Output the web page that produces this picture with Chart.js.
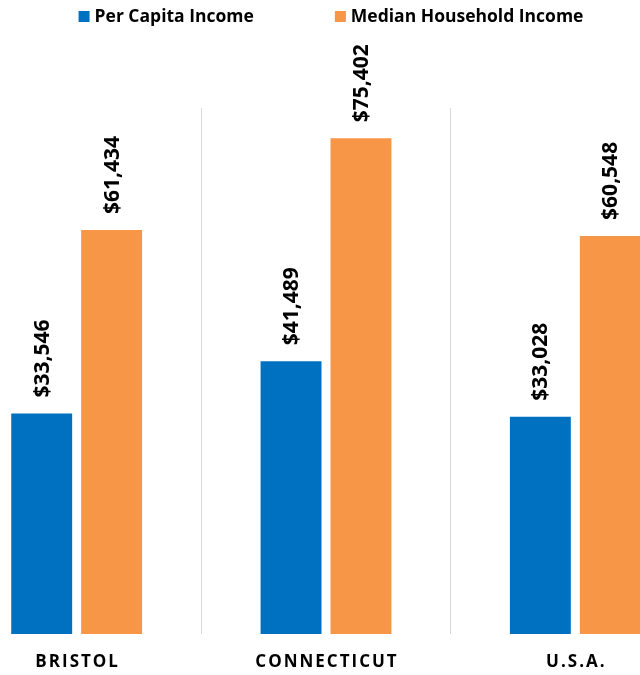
<!DOCTYPE html>
<html>
<head>
<meta charset="utf-8">
<script src="https://cdn.jsdelivr.net/npm/chart.js@4.4.1/dist/chart.umd.min.js"></script>
<style>
  html, body { margin: 0; padding: 0; background: #fff; overflow: hidden; }
  #wrap { position: absolute; left: -48px; top: 0; width: 748px; height: 675px; }
</style>
</head>
<body>
<div id="wrap"><canvas id="chart"></canvas></div>
<script>
const categories = ["BRISTOL", "CONNECTICUT", "U.S.A."];
const perCapita = [33546, 41489, 33028];
const medianHousehold = [61434, 75402, 60548];
const seriesNames = ["Per Capita Income", "Median Household Income"];
const seriesColors = ["#0070C0", "#F79646"];

const FONT = "'Open Sans', 'Liberation Sans', sans-serif";

// legend, value labels and category labels drawn by hand
const labelsPlugin = {
  id: "labels",
  afterDraw(chart) {
    const ctx = chart.ctx;
    ctx.save();

    // value labels, rotated, above each bar
    ctx.font = "bold 21px " + FONT;
    ctx.fillStyle = "#000";
    ctx.textAlign = "left";
    ctx.textBaseline = "middle";
    chart.data.datasets.forEach((ds, di) => {
      chart.getDatasetMeta(di).data.forEach((bar, i) => {
        ctx.save();
        ctx.translate(bar.x + 1, bar.y - 16);
        ctx.rotate(-Math.PI / 2);
        ctx.fillText("$" + ds.data[i].toLocaleString("en-US"), 0, 0);
        ctx.restore();
      });
    });

    // category labels
    const xScale = chart.scales.x;
    ctx.font = "bold 17px " + FONT;
    ctx.letterSpacing = "2px";
    ctx.textAlign = "center";
    categories.forEach((c, i) => {
      ctx.fillText(c, xScale.getPixelForValue(i) + 1, 662);
    });
    ctx.letterSpacing = "0px";

    // legend
    ctx.font = "bold 17.5px " + FONT;
    ctx.textAlign = "left";
    const box = 11, gapText = 5, gapItem = 81;
    const widths = chart.data.datasets.map(ds => box + gapText + ctx.measureText(ds.label).width);
    const total = widths[0] + gapItem + widths[1];
    let x = 48 + 331 - total / 2;
    chart.data.datasets.forEach((ds, di) => {
      ctx.fillStyle = ds.backgroundColor;
      ctx.fillRect(x, 11, box, box);
      ctx.fillStyle = "#000";
      ctx.fillText(ds.label, x + box + gapText, 17);
      x += widths[di] + gapItem;
    });

    ctx.restore();
  }
};

new Chart(document.getElementById("chart"), {
  type: "bar",
  data: {
    labels: categories,
    datasets: [
      { label: seriesNames[0], data: perCapita, backgroundColor: seriesColors[0] },
      { label: seriesNames[1], data: medianHousehold, backgroundColor: seriesColors[1] }
    ]
  },
  options: {
    responsive: true,
    maintainAspectRatio: false,
    animation: false,
    categoryPercentage: 0.561,
    barPercentage: 0.871,
    layout: { padding: { top: 108, bottom: 41, left: 0, right: 0 } },
    plugins: {
      legend: { display: false },
      tooltip: { enabled: false }
    },
    scales: {
      x: {
        grid: { display: true, offset: true, color: "#D9D9D9", lineWidth: 1, drawTicks: false },
        border: { display: false },
        ticks: { display: false }
      },
      y: {
        display: false,
        min: 0,
        max: 80000
      }
    }
  },
  plugins: [labelsPlugin]
});
</script>
</body>
</html>
